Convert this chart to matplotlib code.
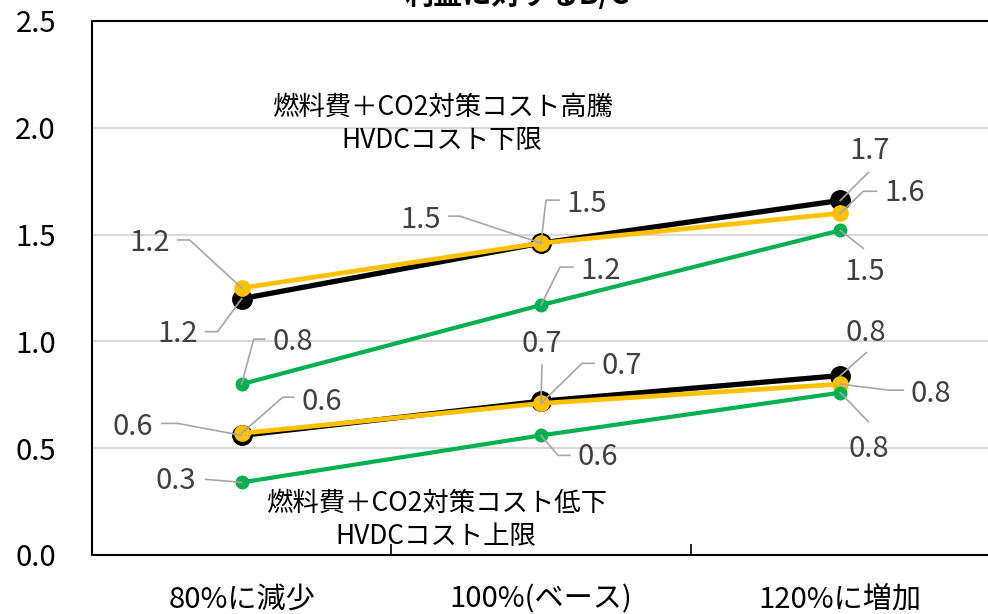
import numpy as np
import matplotlib
matplotlib.use('Agg')
import matplotlib.pyplot as plt
import matplotlib.transforms as mtransforms

plt.rcParams['font.family'] = ['Noto Sans CJK JP', 'DejaVu Sans']

# category axis and B/C values (high-cost case on top, low-cost case below)
categories = ['80%に減少', '100%(ベース)', '120%に増加']

high_black = [1.20, 1.46, 1.66]
high_orange = [1.25, 1.46, 1.60]
high_green = [0.80, 1.17, 1.52]

low_black = [0.56, 0.72, 0.84]
low_orange = [0.57, 0.71, 0.80]
low_green = [0.34, 0.56, 0.76]

title = '利益に対するB/C'
note_high = '燃料費＋CO2対策コスト高騰\nHVDCコスト下限'
note_low = '燃料費＋CO2対策コスト低下\nHVDCコスト上限'

# label placement in pixels from the point: text centre, then leader line vertices
label_pos = {
    'high_black': [((-64, 35), [(-24, 33), (-36, 33)]),
                   ((46, -39), [(5, -43), (18, -43)]),
                   ((29, -49), [(28, -28)])],
    'high_orange': [((-92, -45), [(-52, -48), (-64, -48)]),
                    ((-120, -23), [(-81, -27), (-92, -27)]),
                    ((64, -20), [(23, -22), (36, -22)])],
    'high_green': [((51, -42), [(12, -45), (23, -45)]),
                   ((60, -34), [(19, -38), (32, -38)]),
                   ((24, 42), [(23, 18)])],
    'low_black': [((-109, -8), [(-64, -12), (-80, -12)]),
                  ((1, -57), [(1, -36)]),
                  ((25, -43), [(26, -23)])],
    'low_orange': [((80, -31), [(41, -36), (52, -36)]),
                   ((81, -37), [(41, -40), (53, -40)]),
                   ((90, 10), [(48, 6), (63, 6)])],
    'low_green': [((-66, -1), [(-36, -3)]),
                  ((57, 22), [(17, 20), (29, 20)]),
                  ((28, 56), [(28, 29)])],
}

series = [
    ('high_black', high_black, 'black', 3.8, 14),
    ('low_black', low_black, 'black', 3.8, 14),
    ('high_orange', high_orange, '#FFC000', 3.4, 11),
    ('low_orange', low_orange, '#FFC000', 3.4, 11),
    ('high_green', high_green, '#00B050', 3.0, 9),
    ('low_green', low_green, '#00B050', 3.0, 9),
]

fig = plt.figure(figsize=(9.88, 6.14), dpi=100)
ax = fig.add_axes([92/988, 59/614, 898/988, 534/614])

x = np.arange(len(categories))
for z, (name, vals, col, lw, ms) in enumerate(series):
    ax.plot(x, vals, color=col, lw=lw, marker='o', ms=ms, zorder=3 + z)

ax.set_xlim(-0.5, 2.5)
ax.set_ylim(0, 2.5)
ax.set_yticks(np.arange(0, 2.51, 0.5))
ax.set_yticklabels(['%.1f' % v for v in np.arange(0, 2.51, 0.5)])
ax.set_xticks(x)
ax.set_xticklabels(categories)
ax.set_xticks([0.5, 1.5], minor=True)
ax.tick_params(axis='x', which='major', length=0, pad=21, labelsize=21)
ax.tick_params(axis='x', which='minor', length=8, width=1.2, direction='in')
ax.tick_params(axis='y', length=0, pad=26, labelsize=21)
ax.grid(axis='y', color='#d9d9d9', lw=1.5)
ax.set_axisbelow(True)
for s in ['left', 'bottom', 'top']:
    ax.spines[s].set_linewidth(1.5)
    ax.spines[s].set_color('black')
ax.spines['right'].set_visible(False)
ax.autoscale(False)

# data labels with leader lines, laid out in pixel space
fig.canvas.draw()
ident = mtransforms.IdentityTransform()
for name, vals, col, lw, ms in series:
    for i, v in enumerate(vals):
        (tx, ty), verts = label_pos[name][i]
        px, py = ax.transData.transform((x[i], v))
        xs = [px] + [px + ex for ex, ey in verts]
        ys = [py] + [py - ey for ex, ey in verts]
        ax.plot(xs, ys, color='#a6a6a6', lw=1.2, transform=ident, zorder=20, clip_on=False)
        ax.text(px + tx, py - ty, '%.1f' % v, transform=ident, ha='center', va='center',
                fontsize=21, color='#404040', zorder=21)

ax.text(0.67, 2.02, note_high, ha='center', va='center', fontsize=19, linespacing=1.3, zorder=22)
ax.text(0.65, 0.164, note_low, ha='center', va='center', fontsize=19, linespacing=1.3, zorder=22)

fig.text(0.523, 1.008, title, ha='center', va='center', fontsize=21, fontweight='bold')

fig.savefig('out.png', dpi=100)
